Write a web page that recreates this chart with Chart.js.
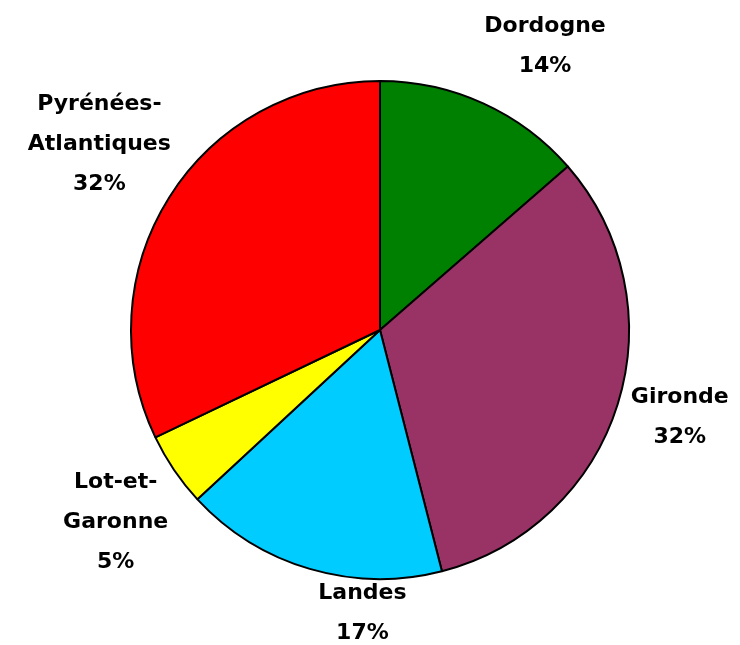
<!DOCTYPE html>
<html>
<head>
<meta charset="utf-8">
<script src="https://cdn.jsdelivr.net/npm/chart.js@4.4.1/dist/chart.umd.min.js"></script>
<style>
  html, body { margin: 0; padding: 0; background: #fff; }
  canvas { display: block; }
</style>
</head>
<body>
<canvas id="pieChart" width="740" height="645"></canvas>
<script>
// departements et parts
const departements = ["Dordogne", "Gironde", "Landes", "Lot-et-Garonne", "Pyrénées-Atlantiques"];
const parts = [13.6, 32.4, 17.1, 4.8, 32.1];
const couleurs = ["#008000", "#993366", "#00CCFF", "#FFFF00", "#FF0000"];

// petits réglages de placement des étiquettes (angle en degrés, écart en px)
const labelTweaks = [
    { da: 3.5, gap: 42 },
    { da: 0, gap: 16 },
    { da: -13, gap: 5 },
    { da: -2, gap: 26 },
    { da: 3, gap: 23 }
];

function splitLabel(txt) {
    if (txt.length > 10 && txt.lastIndexOf("-") > 0) {
        const i = txt.lastIndexOf("-");
        return [txt.slice(0, i + 1), txt.slice(i + 1)];
    }
    return [txt];
}

const outsideLabels = {
    id: "outsideLabels",
    afterDatasetsDraw(chart) {
        const ctx = chart.ctx;
        const meta = chart.getDatasetMeta(0);
        const data = chart.data.datasets[0].data;
        const total = data.reduce((a, b) => a + b, 0);
        const lineH = 40;
        ctx.save();
        ctx.font = "bold 22px 'DejaVu Sans'";
        ctx.fillStyle = "#000";
        ctx.textAlign = "center";
        ctx.textBaseline = "middle";
        meta.data.forEach((arc, i) => {
            const tw = labelTweaks[i];
            const lines = splitLabel(chart.data.labels[i]);
            lines.push(Math.round(data[i] / total * 100) + "%");
            const ang = (arc.startAngle + arc.endAngle) / 2 + tw.da * Math.PI / 180;
            const r = arc.outerRadius + tw.gap;
            const cx = Math.cos(ang), cy = Math.sin(ang);
            let w = 0;
            lines.forEach(l => { w = Math.max(w, ctx.measureText(l).width); });
            const hw = w / 2;
            const hh = ((lines.length - 1) * lineH + 20) / 2;
            const x = arc.x + cx * r + cx * hw;
            const y = arc.y + cy * r + cy * hh;
            lines.forEach((l, k) => {
                ctx.fillText(l, x, y - (lines.length - 1) * lineH / 2 + k * lineH);
            });
        });
        ctx.restore();
    }
};

new Chart(document.getElementById("pieChart"), {
    type: "pie",
    data: {
        labels: departements,
        datasets: [{
            data: parts,
            backgroundColor: couleurs,
            borderColor: "#000",
            borderWidth: 2,
            hoverOffset: 0
        }]
    },
    options: {
        responsive: false,
        animation: false,
        layout: {
            padding: { top: 80, bottom: 65, left: 130, right: 110 }
        },
        plugins: {
            legend: { display: false },
            tooltip: { enabled: false }
        }
    },
    plugins: [outsideLabels]
});
</script>
</body>
</html>
